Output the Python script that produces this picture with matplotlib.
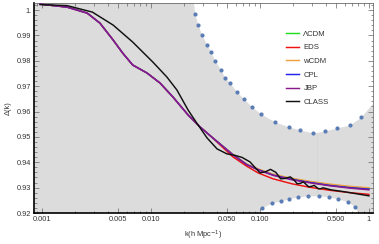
import matplotlib
matplotlib.use("Agg")
import matplotlib.pyplot as plt
from matplotlib.ticker import MultipleLocator, LogLocator, NullFormatter

plt.rcParams['font.family'] = ['Liberation Sans', 'DejaVu Sans']

# model curves share one k grid (h/Mpc)
k_model = [0.00096, 0.0017, 0.0026, 0.0034, 0.0045, 0.0055, 0.0068, 0.0092, 0.0121, 0.0159,
           0.0219, 0.0282, 0.036, 0.043, 0.0565, 0.076, 0.096, 0.132, 0.197, 0.288,
           0.439, 0.669, 1.0]
low_k = [1.00236, 1.00118, 0.99882, 0.99488, 0.98819, 0.98307, 0.97835, 0.97520, 0.97126, 0.96575,
         0.95866, 0.95394, 0.95000, 0.94724]
jbp = low_k + [0.94291, 0.93898, 0.93701, 0.93484, 0.93307, 0.93189, 0.93071, 0.92980, 0.92913]
wcdm = low_k + [0.94311, 0.93925, 0.93740, 0.93532, 0.93366, 0.93248, 0.93138, 0.93051, 0.92992]
lcdm = low_k + [0.94303, 0.93913, 0.93724, 0.93512, 0.93347, 0.93228, 0.93110, 0.93024, 0.92965]
cpl = low_k + [0.94299, 0.93906, 0.93713, 0.93496, 0.93327, 0.93205, 0.93087, 0.93000, 0.92941]
eds = low_k[:-1] + [0.94685, 0.94213, 0.93839, 0.93583, 0.93347, 0.93150, 0.93012, 0.92894,
                    0.92803, 0.92736]

k_class = [0.00096, 0.0017, 0.0029, 0.0045, 0.0068, 0.0104, 0.014, 0.0173, 0.0219, 0.0259,
           0.0327, 0.0404, 0.0498, 0.059, 0.0684, 0.081, 0.1, 0.112, 0.125, 0.14,
           0.155, 0.172, 0.19, 0.205, 0.22, 0.235, 0.25, 0.265, 0.28, 0.297,
           0.315, 0.33, 0.345, 0.362, 0.38, 0.45, 0.6, 1.0]
class_vals = [1.00217, 1.00177, 0.99921, 0.99409, 0.98740, 0.97953, 0.97362, 0.96850, 0.96063, 0.95591,
              0.94961, 0.94528, 0.94331, 0.94272, 0.94193, 0.94016, 0.93583, 0.93622, 0.93721, 0.93602,
              0.93347, 0.93366, 0.93425, 0.93307, 0.93150, 0.93169, 0.93228, 0.93130, 0.93031, 0.93051,
              0.93090, 0.93012, 0.92953, 0.92961, 0.92992, 0.92913, 0.92835, 0.92677]

# dotted bounds
upper_dots_k = [0.02535, 0.0270, 0.0294, 0.0327, 0.0355, 0.0387, 0.0439, 0.0477, 0.0531, 0.0615,
                0.0713, 0.0845, 0.1021, 0.1373, 0.1846, 0.2328, 0.3063, 0.3947, 0.5085, 0.6692, 0.8446]
upper_dots_val = [0.99843, 0.99409, 0.99016, 0.98622, 0.98346, 0.97992, 0.97638, 0.97323, 0.97126, 0.96772,
                  0.96496, 0.96181, 0.95906, 0.95591, 0.95394, 0.95276, 0.95157, 0.95236, 0.95354, 0.95472, 0.95787]
lower_dots_k = [0.1043, 0.1289, 0.1559, 0.1846, 0.2233, 0.2756, 0.3475, 0.4296, 0.5200, 0.6414, 0.7447]
lower_dots_val = [0.92205, 0.92402, 0.92480, 0.92559, 0.92638, 0.92677, 0.92677, 0.92638, 0.92559, 0.92441, 0.92244]

K_MIN, K_MAX = 0.000845, 1.09
Y_MIN, Y_MAX = 0.92, 1.0028

fig = plt.figure(figsize=(3.79, 2.44), dpi=100)
ax = fig.add_axes([34 / 379, 31 / 244, 339 / 379, 210 / 244])
ax.set_facecolor('#dcdcdc')

# white allowed regions
up_k = [0.0245] + upper_dots_k + [K_MAX]
up_v = [Y_MAX] + upper_dots_val + [0.9634]
ax.fill_between(up_k, up_v, Y_MAX, color='white', lw=0, zorder=1)
lo_k = [0.0959] + lower_dots_k + [0.794]
lo_v = [Y_MIN] + lower_dots_val + [Y_MIN]
ax.fill_between(lo_k, Y_MIN, lo_v, color='white', lw=0, zorder=1)
ax.plot([0.333, 0.333], [0.9275, 0.951], color='#d2d2d2', lw=0.4, zorder=1)

ax.plot(upper_dots_k, upper_dots_val, 'o', color='#5a7db5', ms=3.0, mew=0, zorder=2)
ax.plot(lower_dots_k, lower_dots_val, 'o', color='#5a7db5', ms=3.0, mew=0, zorder=2)

lw = 1.05
ax.plot(k_model, lcdm, color='#22dd22', lw=lw, zorder=3, label='ΛCDM')
ax.plot(k_model, eds, color='#ee1111', lw=lw, zorder=3, label='EDS')
ax.plot(k_model, wcdm, color='#f0a040', lw=lw, zorder=3, label='wCDM')
ax.plot(k_model, cpl, color='#2222ee', lw=lw, zorder=3, label='CPL')
ax.plot(k_model, jbp, color='#8a1a8a', lw=lw, zorder=4, label='JBP')
ax.plot(k_class, class_vals, color='#111111', lw=lw, zorder=5, label='CLASS')

ax.set_xscale('log')
ax.set_xlim(K_MIN, K_MAX)
ax.set_ylim(Y_MIN, Y_MAX)

xt = [0.001, 0.005, 0.01, 0.05, 0.1, 0.5, 1]
ax.set_xticks(xt)
ax.set_xticklabels(['0.001', '0.005', '0.010', '0.050', '0.100', '0.500', '1'])
ax.xaxis.set_minor_locator(LogLocator(base=10, subs=range(2, 10)))
ax.xaxis.set_minor_formatter(NullFormatter())
yt = [0.92, 0.93, 0.94, 0.95, 0.96, 0.97, 0.98, 0.99, 1.0]
ax.set_yticks(yt)
ax.set_yticklabels(['0.92', '0.93', '0.94', '0.95', '0.96', '0.97', '0.98', '0.99', '1.'])
ax.yaxis.set_minor_locator(MultipleLocator(0.002))

ax.tick_params(which='both', direction='in', top=True, right=True, colors='#666666',
               labelcolor='#333333', labelsize=5.3, width=0.5, pad=2)
ax.tick_params(which='major', length=3.5)
ax.tick_params(which='minor', length=1.8)

for s in ['left', 'bottom']:
    ax.spines[s].set_linewidth(1.2)
    ax.spines[s].set_color('black')
for s in ['top', 'right']:
    ax.spines[s].set_linewidth(0.5)
    ax.spines[s].set_color('#555555')

ax.set_xlabel('k(h Mpc$^{-1}$)', fontsize=5.3, color='#333333', labelpad=4)
ax.set_ylabel('Δ(k)', fontsize=5.3, color='#333333', labelpad=4)

ax.legend(loc='upper left', bbox_to_anchor=(0.735, 0.885), frameon=False, fontsize=5.6,
          handlelength=1.7, handletextpad=0.5, labelspacing=0.8, borderaxespad=0,
          labelcolor='#333333')

fig.savefig('out.png', dpi=100)
